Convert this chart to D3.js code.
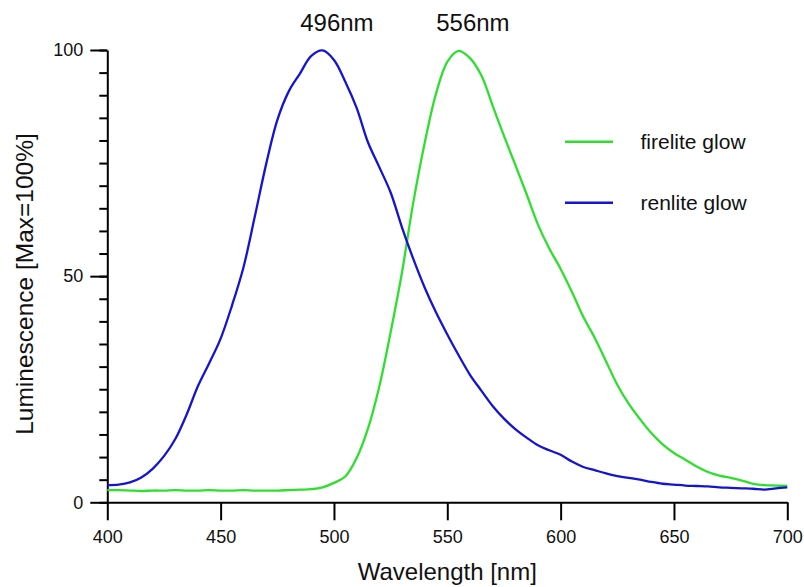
<!DOCTYPE html>
<html>
<head>
<meta charset="utf-8">
<script src="https://cdn.jsdelivr.net/npm/d3@7"></script>
<style>
  body { margin: 0; background: #fff; }
  svg { display: block; font-family: "Liberation Sans", Arial, sans-serif; }
</style>
</head>
<body>
<svg id="chart" width="804" height="587"></svg>
<script>
// ---- data ----
const wavelengths = d3.range(400, 701, 5);
const renlite = [3.8, 3.9, 4.4, 5.5, 7.4, 10.2, 14.0, 19.4, 25.7, 30.8,
  36.2, 43.5, 51.8, 63.0, 74.6, 84.5, 90.8, 94.8, 98.7, 99.9,
  97.8, 93.0, 87.2, 79.6, 74.1, 68.5, 60.8, 53.8, 47.5, 42.0,
  37.1, 32.5, 28.2, 24.7, 21.3, 18.5, 16.2, 14.3, 12.6, 11.5,
  10.5, 9.0, 7.8, 7.1, 6.4, 5.8, 5.4, 5.0, 4.5, 4.1,
  3.9, 3.7, 3.6, 3.5, 3.3, 3.2, 3.1, 3.0, 2.8, 3.1, 3.3];
const firelite = [2.7, 2.7, 2.6, 2.5, 2.6, 2.6, 2.7, 2.6, 2.6, 2.7,
  2.6, 2.6, 2.7, 2.6, 2.6, 2.6, 2.7, 2.8, 2.9, 3.3,
  4.3, 5.7, 9.8, 16.3, 25.6, 37.6, 50.8, 66.3, 79.4, 90.3,
  97.4, 99.8, 98.2, 94.4, 87.7, 81.0, 74.6, 68.1, 61.4, 56.1,
  51.6, 46.5, 41.0, 36.4, 31.2, 26.0, 21.8, 18.4, 15.3, 12.8,
  10.9, 9.4, 7.9, 6.7, 5.9, 5.4, 4.8, 4.1, 3.8, 3.7, 3.6];
const seriesNames = ["firelite glow", "renlite glow"];
const seriesColors = ["#2ee02e", "#1414d2"];
const peakLabels = ["496nm", "556nm"];
const peakWavelengths = [496, 556];
const xTicks = [400, 450, 500, 550, 600, 650, 700];
const yTicks = [0, 50, 100];
const yMinorTicks = d3.range(0, 101, 5);
const xTitle = "Wavelength [nm]";
const yTitle = "Luminescence [Max=100%]";

// ---- layout ----
const svg = d3.select("#chart");
const x = d3.scaleLinear().domain([400, 700]).range([107.3, 787.3]);
const y = d3.scaleLinear().domain([0, 100]).range([502.3, 50]);

// minor y ticks
svg.append("g")
  .attr("transform", `translate(${x(400)},0)`)
  .call(d3.axisLeft(y).tickValues(yMinorTicks).tickSize(8).tickFormat(""))
  .call(g => g.select(".domain").remove())
  .call(g => g.selectAll("line").attr("stroke", "#000").attr("stroke-width", 2));

// major y axis
svg.append("g")
  .attr("transform", `translate(${x(400)},0)`)
  .call(d3.axisLeft(y).tickValues(yTicks).tickSize(17).tickSizeOuter(0).tickPadding(7))
  .call(g => g.select(".domain").attr("stroke", "#000").attr("stroke-width", 2))
  .call(g => g.selectAll("line").attr("stroke", "#000").attr("stroke-width", 2))
  .call(g => g.selectAll("text").attr("font-size", 18).attr("fill", "#111")
    .attr("font-family", "Liberation Sans, Arial, sans-serif"));

// x axis
svg.append("g")
  .attr("transform", `translate(0,${y(0)})`)
  .call(d3.axisBottom(x).tickValues(xTicks).tickSize(18).tickSizeOuter(0).tickPadding(10))
  .call(g => g.select(".domain").attr("stroke", "#000").attr("stroke-width", 2))
  .call(g => g.selectAll("line").attr("stroke", "#000").attr("stroke-width", 2))
  .call(g => g.selectAll("text").attr("font-size", 18).attr("fill", "#111")
    .attr("font-family", "Liberation Sans, Arial, sans-serif"));

// curves
const line = d3.line()
  .x((d, i) => x(wavelengths[i]))
  .y(d => y(d))
  .curve(d3.curveCatmullRom.alpha(0.5));

[firelite, renlite].forEach((s, k) => {
  svg.append("path")
    .datum(s)
    .attr("fill", "none")
    .attr("stroke", seriesColors[k])
    .attr("stroke-width", 2.3)
    .attr("stroke-linejoin", "round")
    .attr("d", line);
});

// peak labels
peakLabels.forEach((t, k) => {
  svg.append("text")
    .attr("x", x(peakWavelengths[k]) + 12)
    .attr("y", 31)
    .attr("text-anchor", "middle")
    .attr("font-size", 24)
    .attr("fill", "#111")
    .text(t);
});

// legend
seriesNames.forEach((name, k) => {
  const ly = 141.7 + k * 61;
  svg.append("line")
    .attr("x1", 565).attr("x2", 613)
    .attr("y1", ly).attr("y2", ly)
    .attr("stroke", seriesColors[k]).attr("stroke-width", 2.5);
  svg.append("text")
    .attr("x", 640.5).attr("y", ly + 7)
    .attr("font-size", 21)
    .attr("fill", "#111")
    .text(name);
});

// axis titles
svg.append("text")
  .attr("x", x(550)).attr("y", 580)
  .attr("text-anchor", "middle")
  .attr("font-size", 24)
  .attr("fill", "#111")
  .text(xTitle);

svg.append("text")
  .attr("transform", `translate(33,284) rotate(-90)`)
  .attr("text-anchor", "middle")
  .attr("font-size", 24.5)
  .attr("fill", "#111")
  .text(yTitle);
</script>
</body>
</html>
